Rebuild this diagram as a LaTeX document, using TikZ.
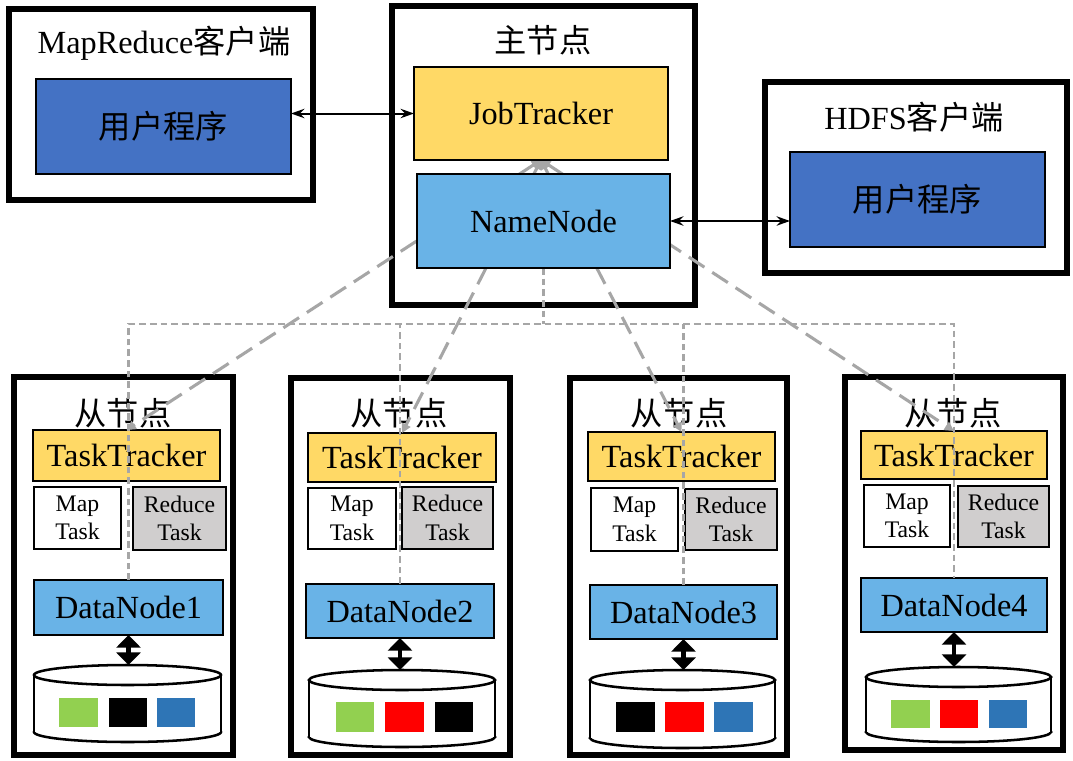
\documentclass[tikz,border=0pt]{standalone}
\usepackage{fontspec}
\setmainfont{Liberation Serif}
\newfontfamily\cjk{Noto Sans CJK SC}
\usetikzlibrary{arrows.meta}
\definecolor{ublue}{HTML}{4472C4}
\definecolor{tyel}{HTML}{FFD966}
\definecolor{lblue}{RGB}{105,179,231}
\definecolor{rgray}{HTML}{D0CECE}
\definecolor{dgray}{HTML}{A6A6A6}
\definecolor{sgreen}{HTML}{92D050}
\definecolor{sblue}{HTML}{2E75B6}
\definecolor{sred}{HTML}{FF0000}
\pgfdeclarelayer{fg}
\pgfsetlayers{main,fg}
\newcommand\mycyl[5]{%
  \coordinate (#1) at (#2,#3);
  \draw[cylline,fill=white] (#2,#4-10) ellipse [x radius=#5*0.75pt, y radius=7.5pt];
  \fill[white] (#2-#5,#3+10) rectangle (#2+#5,#4-10);
  \draw[cylline] (#2-#5,#3+10) -- (#2-#5,#4-10) (#2+#5,#3+10) -- (#2+#5,#4-10);
  \draw[cylline,fill=white] (#2,#3+10) ellipse [x radius=#5*0.75pt, y radius=7.5pt];
}
\newcommand\sq[5]{\fill[#1] (#2,#4) rectangle (#3,#5);}
\begin{document}
\begin{tikzpicture}[x=0.75pt,y=-0.75pt,
  sz/.style 2 args={minimum width=#1*0.75pt, minimum height=#2*0.75pt},
  container/.style={draw, line width=4.8pt, inner sep=0pt, outer sep=0pt},
  ibox/.style={draw, line width=2.2pt, inner sep=0pt, outer sep=0pt, align=center},
  big/.style={font=\fontsize{24.2}{29}\selectfont},
  small/.style={font=\fontsize{17.8}{21.5}\selectfont},
  user/.style={ibox, fill=ublue, big},
  tracker/.style={ibox, fill=tyel, big},
  dnode/.style={ibox, fill=lblue, big},
  maptask/.style={ibox, fill=white, small},
  redtask/.style={ibox, fill=rgray, small},
  ttl/.style={inner sep=0pt, big},
  thinarrow/.style={line width=1.5pt, {Stealth[length=10pt,width=7pt]}-{Stealth[length=10pt,width=7pt]}},
  dbarrow/.style={line width=3.2pt, {Triangle[length=9.5pt,width=18pt]}-{Triangle[length=9.5pt,width=18pt]}},
  longdash/.style={draw=dgray, line width=2.3pt, dash pattern=on 14pt off 7pt, {Triangle[length=7pt,width=7pt]}-{Triangle[length=7pt,width=7pt]}},
  shortdash/.style={draw=dgray, line width=1.9pt, dash pattern=on 5pt off 3pt},
  cylline/.style={line width=1.9pt}
]
\useasboundingbox (0,0) rectangle (1073,760);
\fill[white] (0,0) rectangle (1073,760);

% MapReduce client
\node[container, sz={304}{191}] (mrc) at (161,104.5) {};
\node[ttl] (mrt) at (164,43) {MapReduce{\cjk 客户端}};
\node[user, sz={255}{95}] (mrup) at (163.5,126.5) {\cjk 用户程序};

% master
\node[container, sz={303}{299}] (master) at (543.5,155.5) {};
\node[ttl] (mt) at (543,40) {\cjk 主节点};
\begin{pgfonlayer}{fg}
\node[tracker, sz={254}{93}] (jt) at (541,113.5) {JobTracker};
\node[dnode, sz={253}{94}] (nn) at (543.5,221) {NameNode};
\end{pgfonlayer}

% HDFS client
\node[container, sz={302}{191}] (hc) at (916,177.5) {};
\node[ttl] (ht) at (914,117) {HDFS{\cjk 客户端}};
\node[user, sz={255}{95}] (hup) at (917.5,199.5) {\cjk 用户程序};

% slaves
\node[container, sz={219}{378}] (s1) at (123.5,566) {};
\node[container, sz={219}{377}] (s2) at (400.5,566.5) {};
\node[container, sz={217}{377}] (s3) at (678.5,566.5) {};
\node[container, sz={218}{373}] (s4) at (954,563.5) {};

\node[ttl] (st1) at (123,413) {\cjk 从节点};
\node[ttl] (st2) at (399,413) {\cjk 从节点};
\node[ttl] (st3) at (679,413) {\cjk 从节点};
\node[ttl] (st4) at (953,413) {\cjk 从节点};

\node[tracker, sz={187}{51}] (tt1) at (126.5,455.5) {TaskTracker};
\node[tracker, sz={188}{49}] (tt2) at (402,457.5) {TaskTracker};
\node[tracker, sz={187}{49}] (tt3) at (681.5,456.5) {TaskTracker};
\node[tracker, sz={186}{48}] (tt4) at (954,455) {TaskTracker};

\node[maptask, sz={87}{62}] (m1) at (77.5,518) {Map\\Task};
\node[redtask, sz={93}{63}] (r1) at (179.5,518.5) {Reduce\\Task};
\node[maptask, sz={88}{61}] (m2) at (352,518.5) {Map\\Task};
\node[redtask, sz={91}{62}] (r2) at (447.5,518) {Reduce\\Task};
\node[maptask, sz={87}{63}] (m3) at (634.5,519.5) {Map\\Task};
\node[redtask, sz={92}{61}] (r3) at (731,519.5) {Reduce\\Task};
\node[maptask, sz={86}{62}] (m4) at (907,516) {Map\\Task};
\node[redtask, sz={91}{61}] (r4) at (1003.5,516.5) {Reduce\\Task};

\node[dnode, sz={189}{55}] (dn1) at (128.5,607.5) {DataNode1};
\node[dnode, sz={188}{54}] (dn2) at (400,611) {DataNode2};
\node[dnode, sz={187}{54}] (dn3) at (683.5,612) {DataNode3};
\node[dnode, sz={186}{54}] (dn4) at (954,605) {DataNode4};

% disks
\mycyl{c1}{127.5}{665}{742}{93.5}
\mycyl{c2}{402}{670}{747}{93}
\mycyl{c3}{682.5}{670}{748}{92.5}
\mycyl{c4}{958.5}{667}{742}{92.5}

\sq{sgreen}{59}{98}{698}{727}
\sq{black}{109}{147}{698}{727}
\sq{sblue}{157}{195}{698}{727}
\sq{sgreen}{336}{374}{702}{732}
\sq{sred}{385}{424}{702}{732}
\sq{black}{435}{473}{702}{732}
\sq{black}{616}{655}{702}{732}
\sq{sred}{665}{704}{702}{732}
\sq{sblue}{714}{753}{702}{732}
\sq{sgreen}{891}{930}{700}{728}
\sq{sred}{940}{978}{700}{728}
\sq{sblue}{989}{1027}{700}{728}

% connectors
\draw[thinarrow] (mrup.east |- jt.west) -- (jt.west);
\draw[thinarrow] (nn.east) -- (hup.west |- nn.east);

\draw[dbarrow] (dn1.south) -- (dn1.south |- c1);
\draw[dbarrow] (dn2.south) -- (dn2.south |- c2);
\draw[dbarrow] (dn3.south) -- (dn3.south |- c3);
\draw[dbarrow] (dn4.south) -- (dn4.south |- c4);

\coordinate (bus) at (543,324);
\draw[shortdash] (nn.south) -- (nn.south |- bus);
\draw[shortdash] (dn1.north) -- (dn1.north |- bus) -- (dn4.north |- bus) -- (dn4.north);
\draw[shortdash] (dn2.north) -- (dn2.north |- bus);
\draw[shortdash] (dn3.north) -- (dn3.north |- bus);

\draw[longdash] (jt.south) -- (tt1.north);
\draw[longdash] (jt.south) -- (tt2.north);
\draw[longdash] (jt.south) -- (tt3.north);
\draw[longdash] (jt.south) -- (tt4.north);
\end{tikzpicture}
\end{document}
